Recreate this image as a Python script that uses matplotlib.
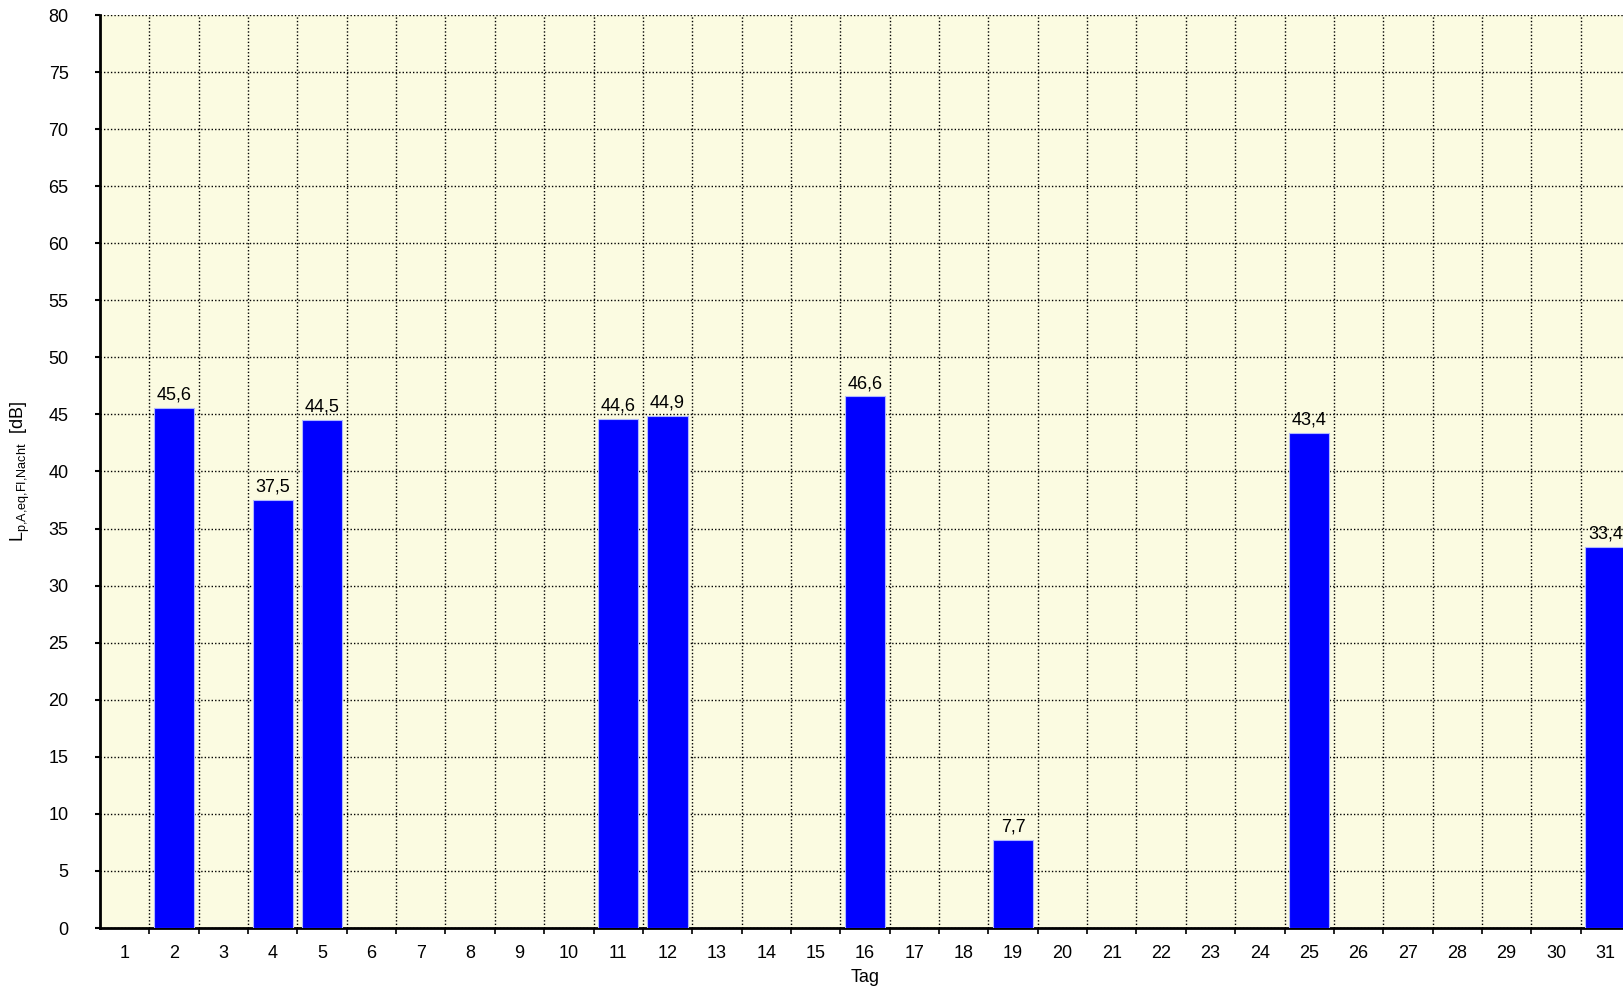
import numpy as np
import matplotlib
matplotlib.use('Agg')
import matplotlib.pyplot as plt
from matplotlib.ticker import FixedLocator

# Tageswerte (nur Tage mit Messwert)
tage = [2, 4, 5, 11, 12, 16, 19, 25, 31]
werte = [45.6, 37.5, 44.5, 44.6, 44.9, 46.6, 7.7, 43.4, 33.4]
alle_tage = list(range(1, 32))
y_ticks = list(range(0, 85, 5))

plt.rcParams['font.family'] = ['Liberation Sans', 'DejaVu Sans']
plt.rcParams['mathtext.fontset'] = 'custom'
plt.rcParams['mathtext.rm'] = 'Liberation Sans'

def main():
    fig = plt.figure(figsize=(16.24, 9.88), dpi=100)
    # Achse laeuft rechts etwas ueber den Bildrand hinaus (wie im Original)
    ax = fig.add_axes([100/1624, 1 - 928/988, 1530/1624, 913/988])
    ax.set_facecolor('#fbfbe1')

    ax.bar(tage, werte, width=0.82, color='#0000ff', edgecolor='#b0b8ff',
           linewidth=0.8, zorder=3)
    for t, w in zip(tage, werte):
        ax.annotate(('%.1f' % w).replace('.', ','), (t, w), xytext=(0, 3),
                    textcoords='offset points', ha='center', va='bottom',
                    fontsize=13, zorder=4)

    ax.set_xlim(0.5, 31.5)
    ax.set_ylim(0, 80)
    ax.set_xticks(alle_tage)
    ax.set_xticklabels([str(t) for t in alle_tage])
    ax.xaxis.set_minor_locator(FixedLocator(np.arange(1.5, 31.5, 1)))
    ax.set_yticks(y_ticks)

    ax.tick_params(axis='x', which='major', length=0, pad=12, labelsize=13)
    ax.tick_params(axis='x', which='minor', length=4, width=1.2, direction='out')
    ax.tick_params(axis='y', length=3.6, width=1.5, pad=19, labelsize=13)

    ax.grid(True, axis='y', which='major', color='black', linestyle=(0, (1, 1.5)),
            linewidth=1, zorder=1)
    ax.grid(True, axis='x', which='minor', color='black', linestyle=(0, (1, 1.5)),
            linewidth=1, zorder=1)

    for s in ['top', 'right']:
        ax.spines[s].set_visible(False)
    ax.spines['left'].set_linewidth(2)
    ax.spines['bottom'].set_linewidth(2)

    ax.set_xlabel('Tag', fontsize=13, labelpad=5)
    ax.set_ylabel(r'$\mathregular{L_{p{,}A{,}eq{,}FI{,}Nacht}}$  [dB]', fontsize=13, labelpad=12)

    fig.savefig('out.png', dpi=100)

if __name__ == "__main__":
    main()
